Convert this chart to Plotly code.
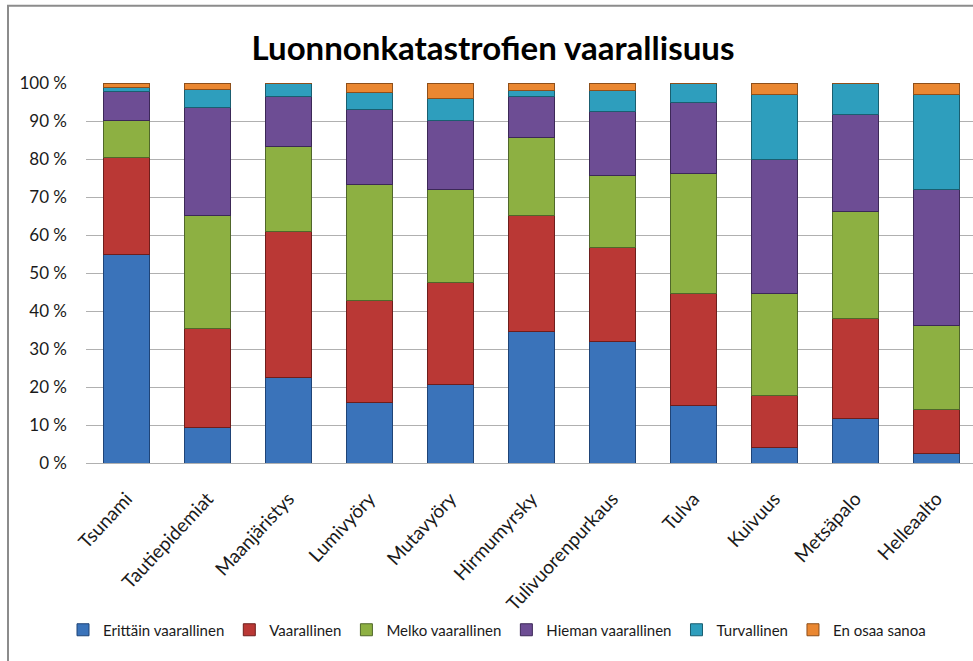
import plotly.graph_objects as go

categories = ["Tsunami", "Tautiepidemiat", "Maanjäristys", "Lumivyöry", "Mutavyöry",
              "Hirmumyrsky", "Tulivuorenpurkaus", "Tulva", "Kuivuus", "Metsäpalo", "Helleaalto"]

erittain_vaarallinen = [55.0, 9.4, 22.6, 15.8, 20.6, 34.6, 32.0, 15.1, 4.1, 11.6, 2.4]
vaarallinen          = [25.4, 25.9, 38.4, 26.9, 26.8, 30.6, 24.7, 29.5, 13.7, 26.3, 11.8]
melko_vaarallinen    = [9.7, 29.9, 22.2, 30.5, 24.7, 20.5, 18.9, 31.5, 26.9, 28.2, 22.0]
hieman_vaarallinen   = [7.7, 28.3, 13.3, 19.8, 18.1, 10.8, 16.9, 18.9, 35.1, 25.6, 35.9]
turvallinen          = [1.1, 4.8, 3.5, 4.6, 5.7, 1.5, 5.5, 5.0, 17.3, 8.3, 25.0]
en_osaa_sanoa        = [1.1, 1.7, 0.0, 2.4, 4.1, 2.0, 2.0, 0.0, 2.9, 0.0, 2.9]

series_names = ["Erittäin vaarallinen", "Vaarallinen", "Melko vaarallinen",
                "Hieman vaarallinen", "Turvallinen", "En osaa sanoa"]
series_values = [erittain_vaarallinen, vaarallinen, melko_vaarallinen,
                 hieman_vaarallinen, turvallinen, en_osaa_sanoa]
colors = ["#3A73BA", "#BA3835", "#8DB042", "#6D4D94", "#2E9EBD", "#EA8731"]
edge_colors = ["#1F4477", "#6E1E1C", "#50672A", "#3C2857", "#1A5E70", "#8E4F1A"]

ytick_vals = [0, 10, 20, 30, 40, 50, 60, 70, 80, 90, 100]
ytick_text = [f"{v} %" for v in ytick_vals]

FONT = "Lato, 'Open Sans', sans-serif"

fig = go.Figure()
for name, vals, c, ec in zip(series_names, series_values, colors, edge_colors):
    fig.add_trace(go.Bar(
        x=list(range(len(categories))), y=vals, name=name,
        marker=dict(color=c, line=dict(color=ec, width=1)),
        width=0.58,
    ))

W, H = 973, 661
left, top, bottom_px = 86, 83.3, 463.3
fig.update_layout(
    width=W, height=H,
    barmode="stack",
    plot_bgcolor="white", paper_bgcolor="white",
    margin=dict(l=left, r=0, t=top, b=H - bottom_px, pad=0, autoexpand=False),
    font=dict(family=FONT, size=16, color="#1a1a1a"),
    title=dict(text="<b>Luonnonkatastrofien vaarallisuus</b>",
               font=dict(size=33, color="#000000", family=FONT),
               xref="container", yref="container", x=493 / W, y=1 - 48 / H,
               xanchor="center", yanchor="middle"),
    legend=dict(orientation="h", xref="container", yref="container",
                x=497 / W, y=1 - 630 / H, xanchor="center", yanchor="middle",
                font=dict(size=15, color="#1a1a1a"), itemwidth=30,
                tracegroupgap=0, traceorder="normal"),
)
fig.update_xaxes(
    tickmode="array", tickvals=list(range(len(categories))), ticktext=categories,
    tickangle=-47, range=[-0.5, (W - left) / 81 - 0.5],
    showgrid=False, showline=False, ticks="", tickfont=dict(size=19, color="#1a1a1a"),
    ticklabelstandoff=20, zeroline=False, automargin=False,
)
fig.update_yaxes(
    range=[0, 100], tickmode="array", tickvals=ytick_vals, ticktext=ytick_text,
    showgrid=True, gridcolor="#B0B0B0", gridwidth=1, zeroline=True,
    zerolinecolor="#B0B0B0", zerolinewidth=1, showline=False, ticks="",
    ticklabelstandoff=18, tickfont=dict(size=17, color="#1a1a1a"), automargin=False,
)

# outer chart frame
pw = W - left
ph = bottom_px - top
fig.add_shape(type="rect", xref="paper", yref="paper",
              x0=(8 - left) / pw, x1=(W + 20 - left) / pw,
              y0=(bottom_px - (H + 20)) / ph, y1=(bottom_px - 6) / ph,
              line=dict(color="#8C8C8C", width=2), fillcolor="rgba(0,0,0,0)", layer="below")

fig.write_html("out.html", config={"displayModeBar": False},
               post_script="document.body.style.margin='0px';")
